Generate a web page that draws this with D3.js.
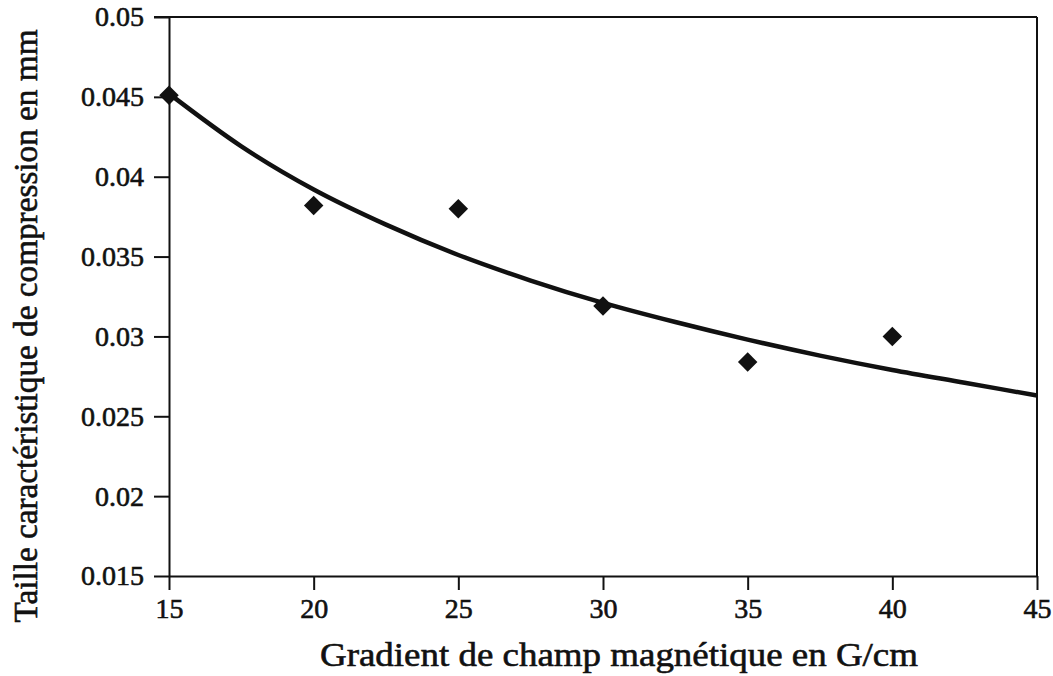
<!DOCTYPE html>
<html>
<head>
<meta charset="utf-8">
<script src="https://cdn.jsdelivr.net/npm/d3@7"></script>
<style>
  html, body { margin: 0; padding: 0; background: #fff; }
  svg { display: block; }
  svg text { font-family: "Liberation Serif", "Times New Roman", Tinos, "DejaVu Serif", serif !important; fill: #111; stroke: #111; stroke-width: 0.6px; }
</style>
</head>
<body>
<svg id="chart" width="1053" height="676"></svg>
<script>
// Measured points
const gradientValues = [15, 20, 25, 30, 35, 40];
const sizeValues = [0.0451, 0.0382, 0.0380, 0.0319, 0.0284, 0.0300];

// Trend curve
const curveX = [15, 17.5, 20, 22.5, 25, 27.5, 30, 32.5, 35, 37.5, 40, 42.5, 45];
const curveY = [0.0452, 0.0419, 0.0392, 0.0370, 0.0351, 0.0335, 0.0321, 0.0309, 0.0298, 0.0288, 0.0279, 0.0271, 0.0263];

// Ticks
const xTicks = [15, 20, 25, 30, 35, 40, 45];
const yTicks = [0.015, 0.02, 0.025, 0.03, 0.035, 0.04, 0.045, 0.05];
const xLabel = "Gradient de champ magnétique en G/cm";
const yLabel = "Taille caractéristique de compression en mm";

const svg = d3.select("#chart");
const mLeft = 169, mRight = 1037, mTop = 17, mBottom = 576;
const FONT = "'Liberation Serif', 'Times New Roman', serif";

const x = d3.scaleLinear().domain([15, 45]).range([mLeft, mRight]);
const y = d3.scaleLinear().domain([0.015, 0.05]).range([mBottom, mTop]);

// Frame (top and right)
svg.append("line").attr("x1", mLeft - 15).attr("x2", mRight).attr("y1", mTop).attr("y2", mTop)
  .attr("stroke", "#111").attr("stroke-width", 2);
svg.append("line").attr("x1", mRight).attr("x2", mRight).attr("y1", mTop).attr("y2", mBottom)
  .attr("stroke", "#111").attr("stroke-width", 2);

// Axes
const yAxis = d3.axisLeft(y).tickValues(yTicks).tickSize(15).tickSizeOuter(0)
  .tickPadding(10).tickFormat(d => String(+d.toFixed(3)));
const gy = svg.append("g").attr("transform", `translate(${mLeft},0)`).call(yAxis);

const xAxis = d3.axisBottom(x).tickValues(xTicks).tickSize(14).tickSizeOuter(0)
  .tickPadding(8).tickFormat(d3.format("d"));
const gx = svg.append("g").attr("transform", `translate(0,${mBottom})`).call(xAxis);

[gx, gy].forEach(g => {
  g.attr("font-family", FONT).attr("font-size", 28);
  g.selectAll(".domain").attr("stroke", "#111").attr("stroke-width", 2);
  g.selectAll(".tick line").attr("stroke", "#111").attr("stroke-width", 2);
  g.selectAll(".tick text").style("font-family", FONT)
    .attr("font-size", 28).attr("fill", "#111");
});

// Trend curve
const curveData = curveX.map((v, i) => [v, curveY[i]]);
svg.append("path")
  .datum(curveData)
  .attr("fill", "none")
  .attr("stroke", "#111")
  .attr("stroke-width", 4.5)
  .attr("d", d3.line().x(d => x(d[0])).y(d => y(d[1])).curve(d3.curveMonotoneX));

// Points (diamonds)
const sym = d3.symbol().type(d3.symbolSquare).size(190);
svg.append("g").selectAll("path")
  .data(gradientValues.map((v, i) => [v, sizeValues[i]]))
  .join("path")
  .attr("d", sym)
  .attr("transform", d => `translate(${x(d[0])},${y(d[1])}) rotate(45)`)
  .attr("fill", "#111");

// Axis titles
svg.append("text")
  .attr("x", 619).attr("y", 666)
  .attr("text-anchor", "middle")
  .style("font-family", FONT)
  .attr("font-size", 34)
  .attr("textLength", 598).attr("lengthAdjust", "spacingAndGlyphs")
  .text(xLabel);

svg.append("text")
  .attr("transform", "translate(37,326) rotate(-90)")
  .attr("text-anchor", "middle")
  .style("font-family", FONT)
  .attr("font-size", 33)
  .attr("textLength", 593).attr("lengthAdjust", "spacingAndGlyphs")
  .text(yLabel);
</script>
</body>
</html>
